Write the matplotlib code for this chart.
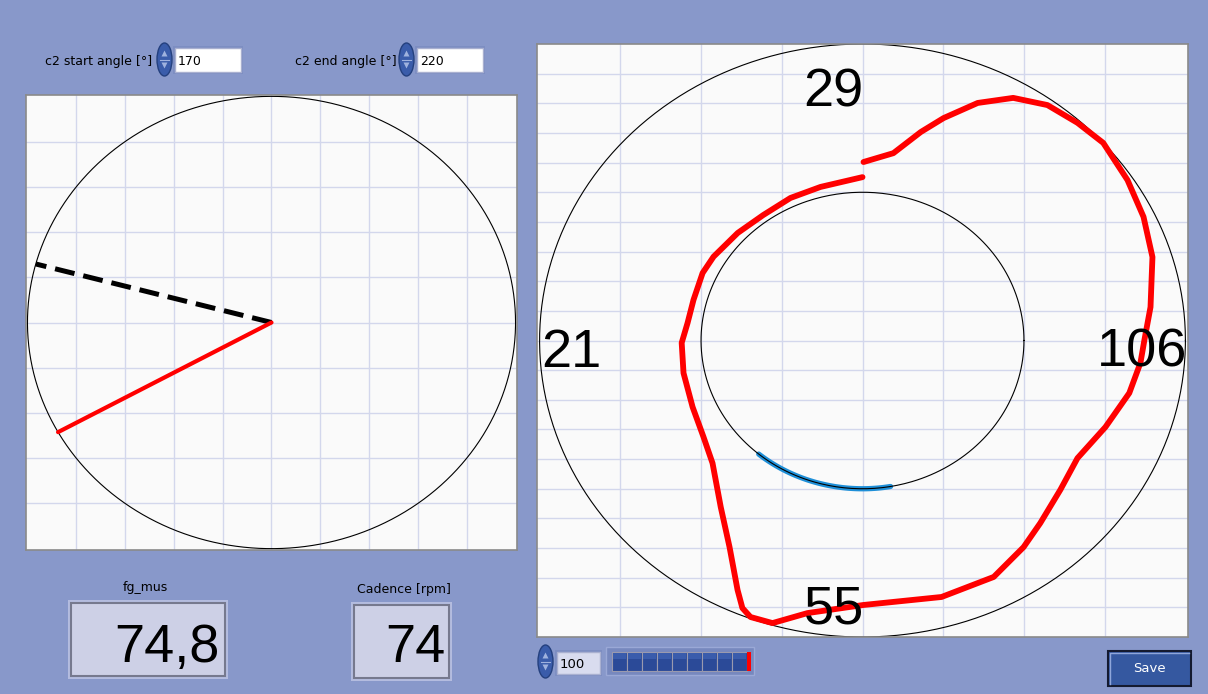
import numpy as np
import matplotlib
matplotlib.use('Agg')
from matplotlib import pyplot as plt
from matplotlib.patches import Rectangle, Ellipse, Polygon

# polar force trace: crank angle (deg, clockwise from top) and normalised force
trace_angle = [0.3, 8.6, 14.4, 18.5, 24.0, 29.7, 35.8, 42.2, 48.2, 56.6, 64.4, 72.6,
               82.8, 89.9, 95.0, 102.1, 111.2, 120.8, 129.4, 138.2, 144.4, 153.0, 164.2,
               179.8, 190.5, 196.3, 200.4, 202.4, 204.7, 210.6, 218.0, 228.3, 236.6, 246.9,
               258.8, 269.2, 276.2, 284.7, 294.7, 301.5, 313.2, 324.0, 335.1, 345.9, 360.0]
trace_radius = [0.602, 0.639, 0.726, 0.791, 0.877, 0.942, 0.979, 0.991, 1.000, 0.983, 0.965, 0.941,
                0.899, 0.873, 0.864, 0.845, 0.807, 0.775, 0.793, 0.826, 0.857, 0.895, 0.899,
                0.892, 0.935, 0.993, 0.995, 0.976, 0.926, 0.809, 0.713, 0.622, 0.590, 0.572,
                0.565, 0.560, 0.545, 0.541, 0.545, 0.541, 0.530, 0.523, 0.530, 0.534, 0.551]

quadrant_values = ['29', '106', '55', '21']   # top, right, bottom, left
c2_start = 170
c2_end = 220
pedal_angle_ref = 165     # dashed line, deg (math convention)
pedal_angle_now = 209     # red line
fg_mus = '74,8'
cadence = '74'
progress = 100

BG = '#8898CA'
PLOT_BG = '#FAFAFA'
GRID = '#D3D7EC'
W, H = 1208, 694

fig = plt.figure(figsize=(W / 100, H / 100), dpi=100, facecolor=BG)

# ui layer in pixel coordinates
ui = fig.add_axes([0, 0, 1, 1], zorder=-1)
ui.set_xlim(0, W)
ui.set_ylim(H, 0)
ui.axis('off')


def spinner(x, y, w=15, h=33):
    ui.add_patch(Ellipse((x + w / 2, y + h / 2), w, h, facecolor='#3A5CAA', edgecolor='#24407E', lw=1))
    ui.add_patch(Polygon([[x + w / 2 - 3, y + h / 2 - 3], [x + w / 2 + 3, y + h / 2 - 3], [x + w / 2, y + h / 2 - 9]],
                         facecolor='#9FB2DE', edgecolor='none'))
    ui.add_patch(Polygon([[x + w / 2 - 3, y + h / 2 + 3], [x + w / 2 + 3, y + h / 2 + 3], [x + w / 2, y + h / 2 + 9]],
                         facecolor='#9FB2DE', edgecolor='none'))
    ui.plot([x + 3, x + w - 3], [y + h / 2, y + h / 2], color='#9FB2DE', lw=0.8)


def numbox(x, y, w, h, text, face='white', size=9):
    ui.add_patch(Rectangle((x - 2, y - 2), w + 4, h + 4, facecolor='#7D8EC2', edgecolor='none'))
    ui.add_patch(Rectangle((x, y), w, h, facecolor=face, edgecolor='#A9B0D0', lw=1))
    ui.text(x + 3, y + h / 2 + 1, text, fontsize=size, family='DejaVu Sans', ha='left', va='center')


# top controls
ui.text(152, 61, 'c2 start angle [°]', fontsize=9, ha='right', va='center')
spinner(157, 43)
numbox(175, 48, 66, 24, str(c2_start))
ui.text(397, 61, 'c2 end angle [°]', fontsize=9, ha='right', va='center')
spinner(399, 43)
numbox(417, 48, 66, 24, str(c2_end))

# big indicators
ui.text(145, 588, 'fg_mus', fontsize=9, ha='center', va='center')
ui.add_patch(Rectangle((68, 600), 160, 79, facecolor='#B4BCDF', edgecolor='none'))
ui.add_patch(Rectangle((71, 603), 154, 73, facecolor='#CDD0E6', edgecolor='#76798E', lw=1.5))
ui.text(220, 662, fg_mus, fontsize=39, family='Liberation Sans', ha='right', va='baseline')

ui.text(404, 590, 'Cadence [rpm]', fontsize=9, ha='center', va='center')
ui.add_patch(Rectangle((351, 602), 101, 79, facecolor='#B4BCDF', edgecolor='none'))
ui.add_patch(Rectangle((354, 605), 95, 73, facecolor='#CDD0E6', edgecolor='#76798E', lw=1.5))
ui.text(446, 662, cadence, fontsize=39, family='Liberation Sans', ha='right', va='baseline')

# bottom controls
spinner(538, 645)
numbox(557, 652, 43, 22, str(progress), face='#D9DCEF', size=9.5)
ui.add_patch(Rectangle((606, 647), 148, 28, facecolor='#7788BE', edgecolor='#9AA8D6', lw=1))
n_seg = 9
seg_w = (747 - 612) / n_seg
for i in range(n_seg):
    ui.add_patch(Rectangle((612 + i * seg_w, 652), seg_w, 19, facecolor='#2B4A98',
                           edgecolor='#9A9AAE', lw=0.8))
    ui.add_patch(Rectangle((612 + i * seg_w + 1, 653), seg_w - 2, 6, facecolor='#3A5CAC',
                           edgecolor='none'))
ui.add_patch(Rectangle((747, 652), 4, 19, facecolor='#FF0000', edgecolor='none'))

ui.add_patch(Rectangle((1108, 651), 83, 35, facecolor='#3558A0', edgecolor='#141A30', lw=1.5))
ui.plot([1110, 1110, 1189], [684, 653, 653], color='#8FA6DA', lw=1)
ui.text(1149, 669, 'Save', fontsize=9.5, color='white', ha='center', va='center')

# left panel: pedal position
axl = fig.add_axes([26 / W, 1 - 550 / H, 491 / W, 455 / H])
axl.set_facecolor(PLOT_BG)
axl.set_xlim(-1.006, 1.006)
axl.set_ylim(-1.006, 1.006)
axl.set_xticks(np.arange(-0.8, 0.81, 0.2))
axl.set_yticks(np.arange(-0.8, 0.81, 0.2))
axl.grid(True, color=GRID, lw=1)
axl.tick_params(length=0, labelbottom=False, labelleft=False)
for s in axl.spines.values():
    s.set_color('#8A8A8A')
    s.set_linewidth(1.2)
t = np.linspace(0, 2 * np.pi, 400)
axl.plot(np.cos(t), np.sin(t), color='black', lw=0.8)
a = np.radians(pedal_angle_ref)
axl.plot([0, np.cos(a)], [0, np.sin(a)], color='black', lw=3.6, linestyle=(0, (4, 1.8)))
a = np.radians(pedal_angle_now)
axl.plot([0, np.cos(a)], [0, np.sin(a)], color='#FF0000', lw=3, solid_capstyle='round')

# right panel: polar force trace
axr = fig.add_axes([537 / W, 1 - 637 / H, 651 / W, 593 / H])
axr.set_facecolor(PLOT_BG)
axr.set_xlim(-1.008, 1.008)
axr.set_ylim(-1.0, 1.0)
axr.set_xticks(np.arange(-0.75, 0.76, 0.25))
axr.set_yticks(np.arange(-0.9, 0.91, 0.1))
axr.grid(True, color=GRID, lw=1)
axr.tick_params(length=0, labelbottom=False, labelleft=False)
for s in axr.spines.values():
    s.set_color('#8A8A8A')
    s.set_linewidth(1.2)

ang = np.radians(np.array(trace_angle))
rad = np.array(trace_radius)
axr.plot(np.cos(t), np.sin(t), color='black', lw=0.8, zorder=2)
c2 = np.radians(np.linspace(c2_start, c2_end, 60))
axr.plot(0.5 * np.sin(c2), 0.5 * np.cos(c2), color='#1E8FD8', lw=3.8, zorder=2, solid_capstyle='round')
axr.plot(0.5 * np.cos(t), 0.5 * np.sin(t), color='black', lw=0.8, zorder=3)
axr.plot(rad * np.sin(ang), rad * np.cos(ang), color='#FF0000', lw=4.2, zorder=4,
         solid_capstyle='round', solid_joinstyle='round')

label_pos = [(-0.09, 0.788), (0.867, -0.089), (-0.09, -0.953), (-0.901, -0.089)]
for (x, y), v in zip(label_pos, quadrant_values):
    axr.text(x, y, v, fontsize=39, family='Liberation Sans', ha='center', va='baseline', zorder=5)

fig.savefig('out.png', dpi=100, facecolor=BG)
